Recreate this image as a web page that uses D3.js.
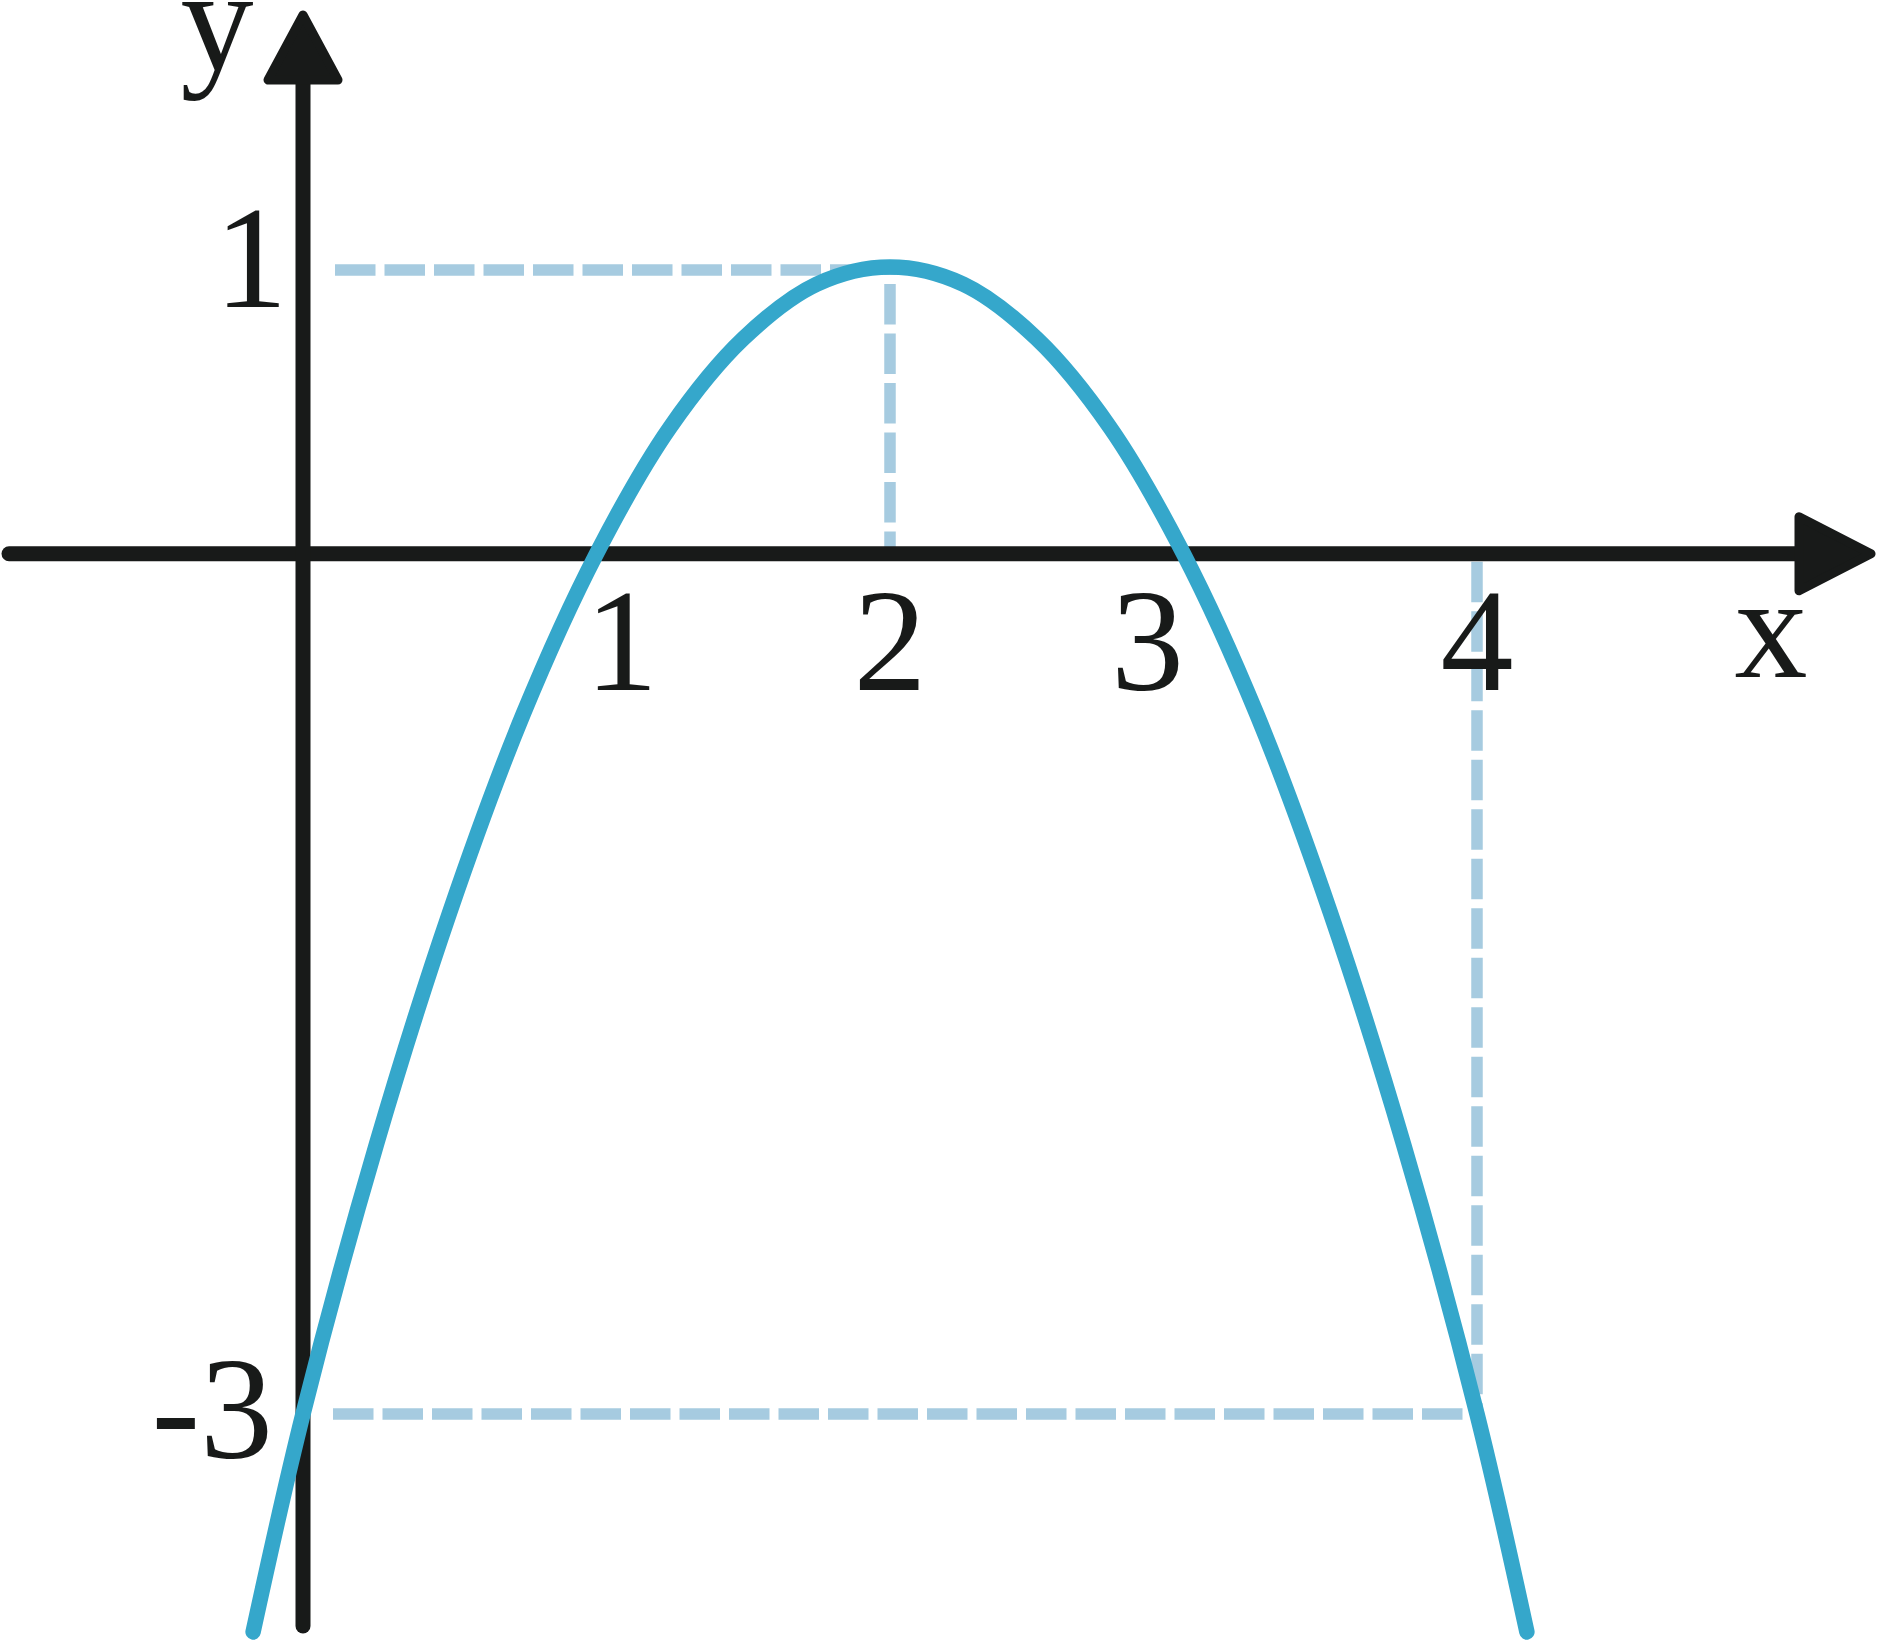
<!DOCTYPE html>
<html>
<head>
<meta charset="utf-8">
<script src="https://cdn.jsdelivr.net/npm/d3@7"></script>
</head>
<body style="margin:0">
<svg id="chart" width="1877" height="1643"></svg>
<script>
// ---- data ----
const curveX = [-0.17, 0, 0.25, 0.5, 0.75, 1, 1.25, 1.5, 1.75, 2, 2.25, 2.5, 2.75, 3, 3.25, 3.5, 3.75, 4, 4.17];
const curveY = [-3.76, -3, -2.06, -1.25, -0.56, 0, 0.44, 0.75, 0.94, 1, 0.94, 0.75, 0.44, 0, -0.56, -1.25, -2.06, -3, -3.76];
const xTickValues = [1, 2, 3, 4];
const xTickLabels = ["1", "2", "3", "4"];
const yTickValues = [1, -3];
const yTickLabels = ["1", "-3"];
const vertex = [2, 1];
const point = [4, -3];
const xAxisLabel = "x";
const yAxisLabel = "y";

// ---- layout / style ----
const AXIS = "#181a19", CURVE = "#35a7cb", DASH = "#a6cbe0";
const FS = 146;

const x = d3.scaleLinear().domain([0, 4]).range([303, 1477]);
const y = d3.scaleLinear().domain([-3, 1]).range([1414, 267]);

const svg = d3.select("#chart");

// dashed guide lines
const dashG = svg.append("g")
  .attr("stroke", DASH).attr("stroke-width", 11.5)
  .attr("stroke-dasharray", "40.5,9").attr("fill", "none");

dashG.append("line")
  .attr("x1", x(0) + 32).attr("x2", x(vertex[0]) - 28)
  .attr("y1", y(vertex[1]) + 3).attr("y2", y(vertex[1]) + 3);
dashG.append("line")
  .attr("x1", x(vertex[0])).attr("x2", x(vertex[0]))
  .attr("y1", y(vertex[1]) + 5).attr("y2", y(0))
  .attr("stroke-dashoffset", 37.5);
dashG.append("line")
  .attr("x1", x(0) + 30).attr("x2", x(point[0]) - 3)
  .attr("y1", y(point[1])).attr("y2", y(point[1]));
dashG.append("line")
  .attr("x1", x(point[0])).attr("x2", x(point[0]))
  .attr("y1", y(0) + 8).attr("y2", y(point[1]) + 2);

// axes
svg.append("line")
  .attr("x1", 9).attr("x2", 1800)
  .attr("y1", y(0)).attr("y2", y(0))
  .attr("stroke", AXIS).attr("stroke-width", 15).attr("stroke-linecap", "round");
svg.append("line")
  .attr("x1", x(0)).attr("x2", x(0))
  .attr("y1", 1626).attr("y2", 78)
  .attr("stroke", AXIS).attr("stroke-width", 15).attr("stroke-linecap", "round");

svg.append("polygon")
  .attr("points", [[1871, y(0)], [1799, y(0) - 37], [1799, y(0) + 37]].map(p => p.join(",")).join(" "))
  .attr("fill", AXIS).attr("stroke", AXIS).attr("stroke-width", 9).attr("stroke-linejoin", "round");
svg.append("polygon")
  .attr("points", [[x(0), 15], [x(0) - 35, 80], [x(0) + 35, 80]].map(p => p.join(",")).join(" "))
  .attr("fill", AXIS).attr("stroke", AXIS).attr("stroke-width", 9).attr("stroke-linejoin", "round");

// parabola
const pts = curveX.map((v, i) => [v, curveY[i]]);
svg.append("path")
  .datum(pts)
  .attr("d", d3.line().x(d => x(d[0])).y(d => y(d[1])).curve(d3.curveCatmullRom.alpha(0.5)))
  .attr("fill", "none").attr("stroke", CURVE).attr("stroke-width", 15.5)
  .attr("stroke-linecap", "round").attr("stroke-linejoin", "round");

// labels
function addLabel(px, py, anchor, str) {
  svg.append("text")
    .attr("x", px).attr("y", py)
    .style("font-family", '"Times New Roman"')
    .attr("font-size", FS)
    .attr("fill", AXIS)
    .attr("text-anchor", anchor)
    .text(str);
}
const xLabelShift = [25, 0, -36, 0];
xTickValues.forEach((v, i) => addLabel(x(v) + xLabelShift[i], 690, "middle", xTickLabels[i]));

const yLabelPos = [[251, 307, "middle"], [273, 1458, "end"]];
yTickValues.forEach((v, i) => addLabel(yLabelPos[i][0], yLabelPos[i][1], yLabelPos[i][2], yTickLabels[i]));

addLabel(1771, 677, "middle", xAxisLabel);
addLabel(217, 70, "middle", yAxisLabel);
</script>
</body>
</html>
